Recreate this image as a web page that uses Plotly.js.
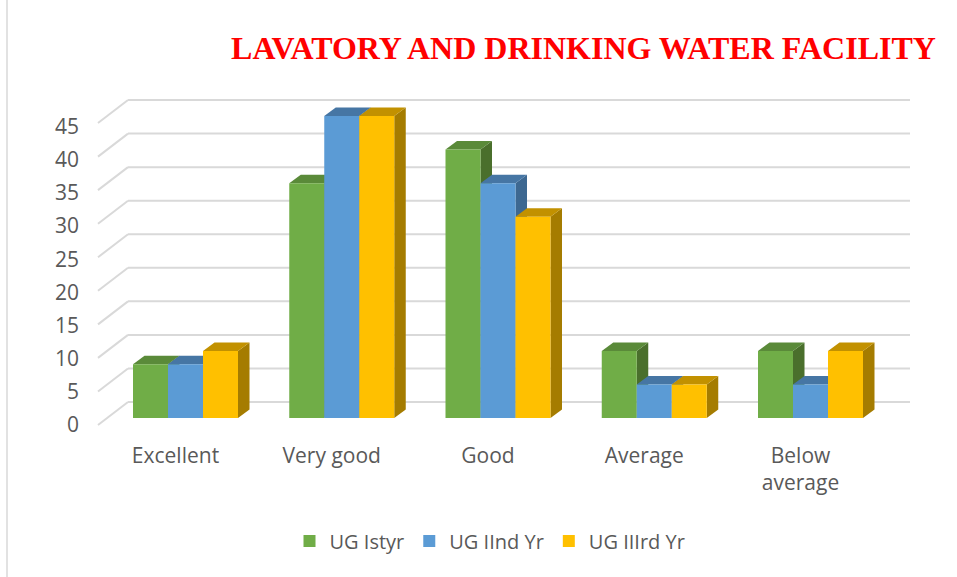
<!DOCTYPE html>
<html>
<head>
<meta charset="utf-8">
<script src="https://cdn.plot.ly/plotly-3.0.1.min.js"></script>
<style>
  html, body { margin: 0; padding: 0; background: #fff; }
  #chart { width: 957px; height: 577px; }
</style>
</head>
<body>
<div id="chart"></div>
<script>
// ---- data ----
const categories = ["Excellent", "Very good", "Good", "Average", "Below<br>average"];
const seriesNames = ["UG Istyr", "UG IInd Yr", "UG IIIrd Yr"];
const ugFirst  = [8, 35, 40, 10, 10];
const ugSecond = [8, 45, 35, 5, 5];
const ugThird  = [10, 45, 30, 5, 10];
const yTicks = [0, 5, 10, 15, 20, 25, 30, 35, 40, 45];

// ---- style ----
const seriesValues = [ugFirst, ugSecond, ugThird];
const frontColors = ["#70AD47", "#5B9BD5", "#FFC000"];
const topColors   = ["#5A8A39", "#4676A4", "#C29100"];
const sideColors  = ["#4A6F2C", "#3D6891", "#A57C00"];

const W = 957, H = 577;
const M = { l: 128, r: 47, t: 85, b: 137 };
const plotW = W - M.l - M.r;          // 782
const plotH = H - M.t - M.b;          // 355
const pxPerCat = 156.25;
const pxPerUnit = 6.71;
const baseFromBottom = 22;            // bar floor above plot bottom (px)
const xRange = [-57.5 / pxPerCat, -57.5 / pxPerCat + plotW / pxPerCat];
const yRange = [-baseFromBottom / pxPerUnit, (plotH - baseFromBottom) / pxPerUnit];

const bargap = 0.328;
const nSeries = seriesValues.length;
const barW = (1 - bargap) / nSeries;

// depth of bars (px -> data units)
const bdx = 11.5 / pxPerCat, bdy = 8.5 / pxPerUnit;
// back wall offset and front edge offset for gridlines
const wallOff = 16 / pxPerUnit;       // back wall above bar floor
const frontOff = -7 / pxPerUnit;      // front edge below bar floor
const wallDxPaper = -30 / plotW;      // perspective run of the floor lines
const labelShift = -10 / pxPerCat;    // category label shift (perspective)

const xs = categories.map((c, i) => i);

const traces = seriesValues.map((vals, j) => ({
  type: "bar",
  name: seriesNames[j],
  x: xs,
  y: vals,
  marker: { color: frontColors[j], line: { width: 0 } },
  hoverinfo: "skip"
}));

const shapes = [];
// back wall gridlines + perspective side lines
yTicks.forEach(v => {
  shapes.push({
    type: "line", xref: "paper", yref: "y", layer: "below",
    x0: 0, x1: 1, y0: v + wallOff, y1: v + wallOff,
    line: { color: "#D9D9D9", width: 2 }
  });
  shapes.push({
    type: "line", xref: "paper", yref: "y", layer: "below",
    x0: wallDxPaper, x1: 0, y0: v + frontOff, y1: v + wallOff,
    line: { color: "#D9D9D9", width: 2 }
  });
});

// 3D side and top faces of each bar (drawn left to right)
xs.forEach((xc, i) => {
  seriesValues.forEach((vals, j) => {
    const v = vals[i];
    const x0 = xc - (1 - bargap) / 2 + j * barW;
    const x1 = x0 + barW;
    shapes.push({
      type: "path", xref: "x", yref: "y", layer: "below",
      path: `M${x1},0 L${x1 + bdx},${bdy} L${x1 + bdx},${v + bdy} L${x1},${v} Z`,
      fillcolor: sideColors[j], line: { width: 0 }
    });
    shapes.push({
      type: "path", xref: "x", yref: "y", layer: "below",
      path: `M${x0},${v} L${x1},${v} L${x1 + bdx},${v + bdy} L${x0 + bdx},${v + bdy} Z`,
      fillcolor: topColors[j], line: { width: 0 }
    });
  });
});

// outer frame line at left edge
shapes.push({
  type: "line", xref: "paper", yref: "paper", layer: "below",
  x0: (7 - M.l) / plotW, x1: (7 - M.l) / plotW,
  y0: -M.b / plotH, y1: 1 + M.t / plotH,
  line: { color: "#D9D9D9", width: 1.5 }
});

const tickFont = { family: "Open Sans", size: 21, color: "#595959" };
const legendFont = { family: "Open Sans", size: 20, color: "#595959" };

const layout = {
  width: W, height: H,
  margin: M,
  paper_bgcolor: "#FFFFFF",
  plot_bgcolor: "rgba(0,0,0,0)",
  barmode: "group",
  bargap: bargap,
  bargroupgap: 0,
  title: {
    text: "<b>LAVATORY AND DRINKING WATER FACILITY</b>",
    font: { family: "Liberation Serif", size: 32, color: "#FF0000" },
    xref: "container", yref: "container",
    x: 583.5 / W, xanchor: "center",
    y: 1 - 48 / H, yanchor: "middle"
  },
  xaxis: {
    range: xRange,
    showgrid: false, zeroline: false, showline: false,
    tickmode: "array",
    tickvals: xs.map(i => i + labelShift),
    ticktext: categories,
    ticks: "",
    tickfont: tickFont,
    ticklabelstandoff: 1,
    fixedrange: true
  },
  yaxis: {
    range: yRange,
    showgrid: false, zeroline: false, showline: false,
    tickmode: "array",
    tickvals: yTicks.map(v => v * 0.9885 - 7 / pxPerUnit),
    ticktext: yTicks.map(String),
    ticks: "",
    tickfont: tickFont,
    ticklabelstandoff: 48,
    fixedrange: true
  },
  showlegend: true,
  legend: {
    orientation: "h",
    x: (490 - M.l) / plotW, xanchor: "center",
    y: -(541 - (H - M.b)) / plotH, yanchor: "middle",
    font: legendFont,
    bgcolor: "rgba(0,0,0,0)",
    traceorder: "normal"
  },
  shapes: shapes
};

Plotly.newPlot("chart", traces, layout, { displayModeBar: false, staticPlot: true });
</script>
</body>
</html>
